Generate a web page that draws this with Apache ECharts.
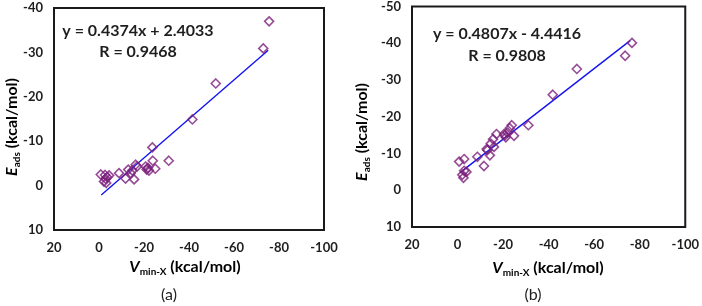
<!DOCTYPE html>
<html>
<head>
<meta charset="utf-8">
<script src="https://cdn.jsdelivr.net/npm/echarts@6/dist/echarts.min.js"></script>
<style>html,body{margin:0;padding:0;background:#fff}#c{width:702px;height:306px}</style>
</head>
<body>
<div id="c"></div>
<script>
// ---- data ----
var xTicks = [20, 0, -20, -40, -60, -80, -100];
var yTicksA = [-40, -30, -20, -10, 0, 10];
var yTicksB = [-50, -40, -30, -20, -10, 0, 10];

var pointsA = [
  [-0.8, -2.5], [-2.7, -2.4], [-4.5, -2.3], [-3.0, -1.5], [-2.2, -0.9], [-3.2, -0.6], [-3.6, -1.9],
  [-8.9, -2.8], [-11.8, -1.6], [-13.0, -3.6], [-14.1, -2.8], [-14.8, -3.4], [-15.6, -1.4],
  [-16.3, -4.7], [-16.9, -4.3], [-20.7, -4.3], [-21.2, -3.6], [-21.7, -4.0], [-22.2, -3.4],
  [-23.7, -8.6], [-23.9, -5.6], [-25.0, -3.8], [-31.0, -5.6], [-41.5, -14.9], [-51.9, -23.0],
  [-73.0, -30.9], [-75.6, -37.0]
];
var trendA = [[-1.0, 2.1], [-75.2, -30.5]];

var pointsB = [
  [-0.7, -7.8], [-2.9, -8.5], [-2.9, -5.3], [-3.9, -5.0], [-2.1, -4.2], [-2.6, -3.4],
  [-8.7, -9.1], [-11.6, -6.6], [-12.8, -11.2], [-13.1, -10.9], [-14.2, -9.5], [-14.6, -12.7],
  [-15.6, -13.9], [-16.0, -11.8], [-17.1, -15.3], [-20.4, -15.3], [-20.8, -14.9], [-21.2, -14.4],
  [-21.9, -15.7], [-22.9, -16.9], [-23.8, -17.7], [-24.8, -14.8], [-31.1, -17.7], [-41.8, -26.0],
  [-52.4, -33.0], [-73.6, -36.6], [-76.6, -40.1]
];
var trendB = [[-1.1, -4.8], [-75.8, -40.7]];

var eqA = 'y = 0.4374x + 2.4033', rA = 'R = 0.9468';
var eqB = 'y = 0.4807x - 4.4416', rB = 'R = 0.9808';

// ---- chart ----
var FONT = 'Lato';
var txt = '#1e1e1e';
var purple = '#7a1f7a';
var blue = '#1414f0';

function xAxis(idx) {
  return {
    type: 'value', gridIndex: idx, min: xTicks[xTicks.length - 1], max: xTicks[0], interval: 20, inverse: true,
    axisLine: {show: false}, axisTick: {show: false}, splitLine: {show: false},
    axisLabel: {color: txt, fontFamily: FONT, fontWeight: 'bold', fontSize: 13, margin: 11}
  };
}
function yAxis(idx, ticks) {
  return {
    type: 'value', gridIndex: idx, min: ticks[0], max: ticks[ticks.length - 1], interval: 10, inverse: true,
    axisLine: {show: false}, axisTick: {show: false}, splitLine: {show: false},
    axisLabel: {color: txt, fontFamily: FONT, fontWeight: 'bold', fontSize: 13, margin: 11}
  };
}
function scatter(idx, data) {
  return {
    type: 'scatter', xAxisIndex: idx, yAxisIndex: idx, data: data, symbol: 'diamond', symbolSize: 9,
    itemStyle: {color: 'rgba(0,0,0,0)', borderColor: purple, borderWidth: 1.6}, z: 3, silent: true
  };
}
function trend(idx, data) {
  return {
    type: 'line', xAxisIndex: idx, yAxisIndex: idx, data: data, symbol: 'none',
    lineStyle: {color: blue, width: 1.4}, z: 2, silent: true
  };
}
var rich = {
  n: {fontFamily: FONT, fontWeight: 'bold', fontSize: 16, color: txt, lineHeight: 20},
  i: {fontFamily: FONT, fontWeight: 'bold', fontStyle: 'italic', fontSize: 16, color: txt, lineHeight: 20},
  s: {fontFamily: FONT, fontWeight: 'bold', fontSize: 10, color: txt, lineHeight: 9, verticalAlign: 'bottom'}
};
function label(x, y, text, rot) {
  return {type: 'text', x: x, y: y, rotation: rot || 0,
    style: {text: text, rich: rich, align: 'center', verticalAlign: 'middle'}};
}
function plain(x, y, text, size, bold) {
  return {type: 'text', x: x, y: y,
    style: {text: text, fontFamily: FONT, fontSize: size, fontWeight: bold ? 'bold' : 'normal', fill: txt, align: 'center', verticalAlign: 'middle'}};
}

var chart = echarts.init(document.getElementById('c'), null, {renderer: 'canvas'});
chart.setOption({
  animation: false,
  backgroundColor: '#fff',
  grid: [
    {left: 54, top: 8, width: 270, height: 222, show: true, borderColor: '#1a1a1a', borderWidth: 2, backgroundColor: 'transparent'},
    {left: 412, top: 5, width: 274, height: 222, show: true, borderColor: '#1a1a1a', borderWidth: 2, backgroundColor: 'transparent'}
  ],
  xAxis: [xAxis(0), xAxis(1)],
  yAxis: [yAxis(0, yTicksA), yAxis(1, yTicksB)],
  series: [trend(0, trendA), scatter(0, pointsA), trend(1, trendB), scatter(1, pointsB)],
  graphic: [
    plain(138, 31, eqA, 16, true), plain(138, 52, rA, 16, true),
    plain(507, 34, eqB, 16, true), plain(507, 56, rB, 16, true),
    label(12, 127, '{i|E}{s|ads}{n| (kcal/mol)}', Math.PI / 2),
    label(362, 132, '{i|E}{s|ads}{n| (kcal/mol)}', Math.PI / 2),
    label(185, 267, '{i|V}{s|min-X}{n| (kcal/mol)}'),
    label(548, 268, '{i|V}{s|min-X}{n| (kcal/mol)}'),
    plain(169, 295, '(a)', 16, false),
    plain(533, 295, '(b)', 16, false)
  ]
});
</script>
</body>
</html>
